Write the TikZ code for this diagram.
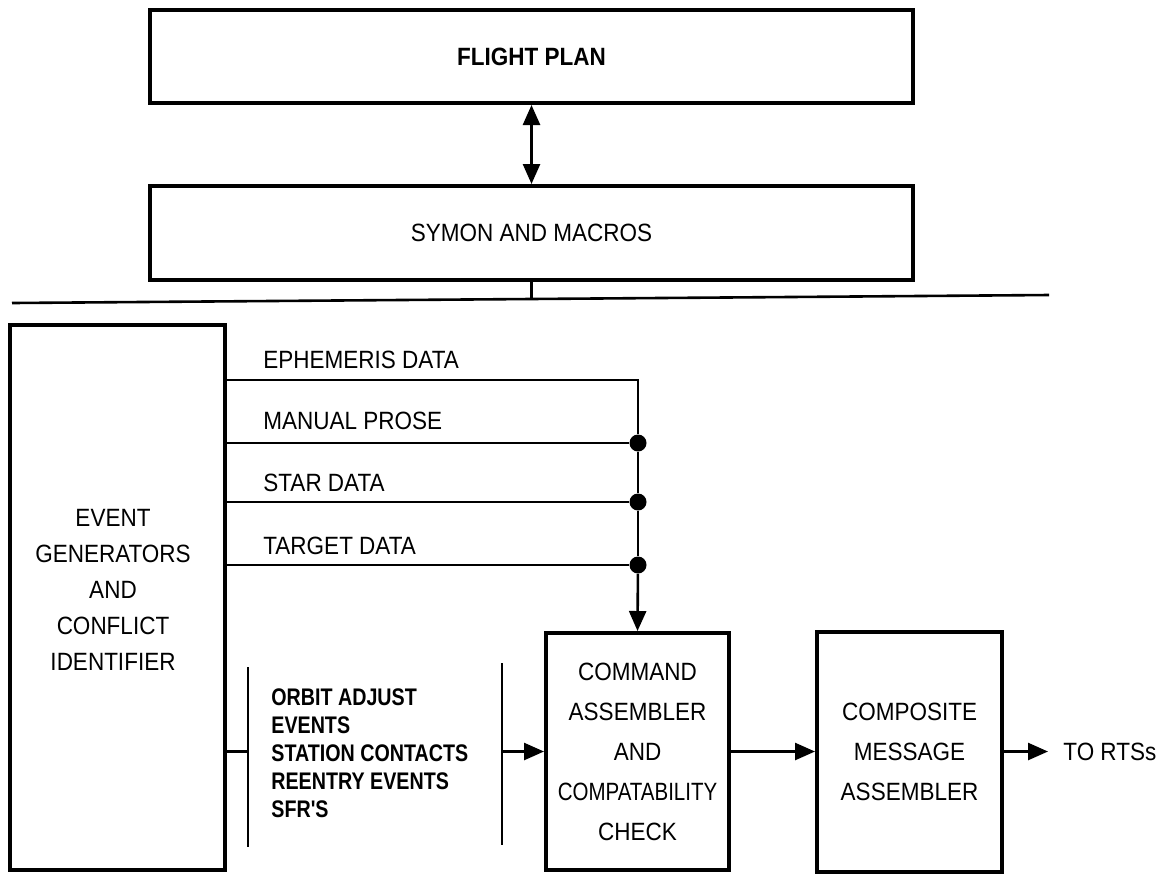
\documentclass[tikz,border=0pt]{standalone}
\usepackage{fontspec}
\setmainfont{Liberation Sans}
\newfontfamily\lett[FakeStretch=0.9]{Liberation Sans}
\newfontfamily\lettn[FakeStretch=0.82]{Liberation Sans}
\usetikzlibrary{arrows.meta}
\begin{document}
\begin{tikzpicture}[x=0.5pt,y=-0.5pt,
  box/.style={draw,line width=2pt,inner sep=0pt},
  conn/.style={line width=1.3pt},
  barline/.style={line width=1pt},
  tip/.tip={Triangle[length=10pt,width=8.5pt]},
  arr/.style={conn,-tip},
  txt/.style={inner sep=0pt,align=center,font=\lett\fontsize{12.5}{20}\selectfont},
  dot/.style={circle,fill,inner sep=0pt,minimum size=8.5pt}]
\useasboundingbox (0,0) rectangle (1171,874);
% top boxes
\node[box,minimum width=381.5pt,minimum height=46.5pt,font=\lett\bfseries\fontsize{12.5}{15}\selectfont] (fp) at (531.5,56.5) {FLIGHT PLAN};
\node[box,minimum width=381.5pt,minimum height=47pt,font=\lett\fontsize{12.5}{15}\selectfont] (sm) at (531.5,233) {SYMON AND MACROS};
\draw[conn,tip-tip] (fp.south) -- (sm.north);
\coordinate (busL) at (12,303);
\coordinate (busR) at (1049,295);
\coordinate (busJ) at (531.5,299);
\draw[conn] (busL) -- (busR);
\draw[conn] (sm.south) -- (busJ);
% left box
\node[box,minimum width=107.5pt,minimum height=272.5pt] (eg) at (117.5,597.5) {};
\node[txt,font=\lett\fontsize{12.5}{18}\selectfont] (egt) at (113,590) {EVENT\\GENERATORS\\AND\\CONFLICT\\IDENTIFIER};
% command and composite boxes
\node[box,minimum width=91.5pt,minimum height=118.5pt] (cmd) at (637.5,751.5) {};
\node[txt] (cmdt) at (637.5,752) {COMMAND\\ASSEMBLER\\AND\\{\lettn COMPATABILITY}\\CHECK};
\node[box,minimum width=92.5pt,minimum height=120pt] (comp) at (909.5,751.5) {};
\node[txt] (compt) at (909.5,752) {COMPOSITE\\MESSAGE\\ASSEMBLER};
% data lines
\coordinate (j0) at (638,380);
\node[dot] (d1) at (638,443) {};
\node[dot] (d2) at (638,502) {};
\node[dot] (d3) at (638,565) {};
\draw[conn] (eg.east |- j0) -- (j0) -- (d1) -- (d2) -- (d3);
\draw[conn] (eg.east |- d1) -- (d1);
\draw[conn] (eg.east |- d2) -- (d2);
\draw[conn] (eg.east |- d3) -- (d3);
\draw[arr] (d3) -- (cmd.north);
\node[txt,anchor=west] (l1) at (263,360) {EPHEMERIS DATA};
\node[txt,anchor=west] (l2) at (263,421) {MANUAL PROSE};
\node[txt,anchor=west] (l3) at (263,483) {STAR DATA};
\node[txt,anchor=west] (l4) at (263,546) {TARGET DATA};
% events block
\coordinate (b1) at (248,751.5);
\coordinate (b1t) at (248,667);
\coordinate (b1b) at (248,847);
\coordinate (b2) at (502,751.5);
\coordinate (b2t) at (502,663);
\coordinate (b2b) at (502,845);
\draw[conn] (eg.east |- b1) -- (b1);
\draw[barline] (b1t) -- (b1b);
\draw[barline] (b2t) -- (b2b);
\node[inner sep=0pt,anchor=west,align=left,font=\lettn\bfseries\fontsize{12}{14}\selectfont] (ev) at (271,753) {ORBIT ADJUST\\EVENTS\\STATION CONTACTS\\REENTRY EVENTS\\SFR'S};
\draw[arr] (b2) -- (cmd.west);
\draw[arr] (cmd.east) -- (comp.west);
\coordinate (out) at (1048,751.5);
\draw[arr] (comp.east) -- (out);
\node[txt,anchor=west] (rts) at (1063,752) {TO RTSs};
\end{tikzpicture}
\end{document}
